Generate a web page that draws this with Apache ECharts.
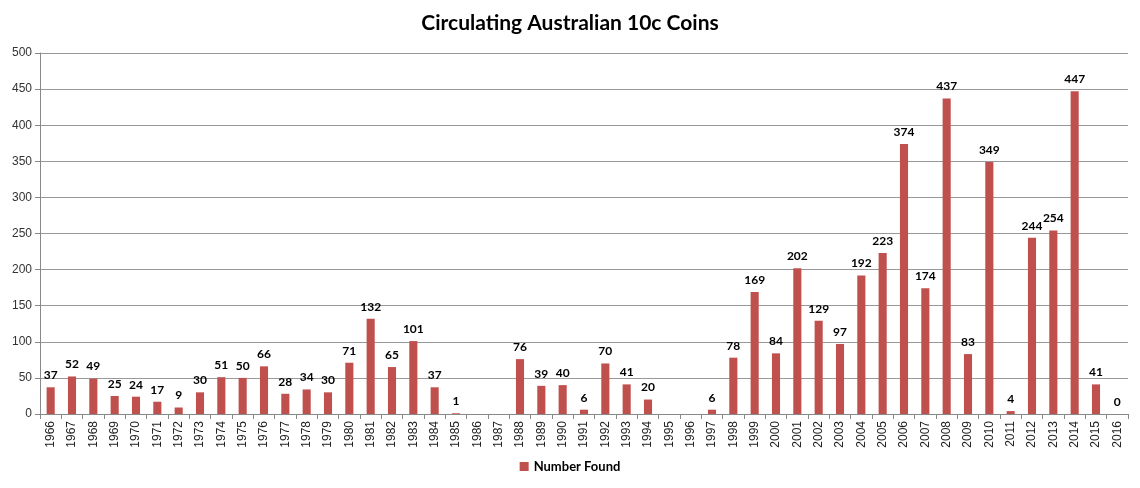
<!DOCTYPE html>
<html><head><meta charset="utf-8">
<script src="https://cdn.jsdelivr.net/npm/echarts@6/dist/echarts.min.js"></script>
<style>html,body{margin:0;padding:0;background:#fff}#c{width:1140px;height:488px}</style>
</head><body><div id="c"></div>
<script>
var years = ["1966","1967","1968","1969","1970","1971","1972","1973","1974","1975","1976","1977","1978","1979","1980","1981","1982","1983","1984","1985","1986","1987","1988","1989","1990","1991","1992","1993","1994","1995","1996","1997","1998","1999","2000","2001","2002","2003","2004","2005","2006","2007","2008","2009","2010","2011","2012","2013","2014","2015","2016"];
var numberFound = [37,52,49,25,24,17,9,30,51,50,66,28,34,30,71,132,65,101,37,1,null,null,76,39,40,6,70,41,20,null,null,6,78,169,84,202,129,97,192,223,374,174,437,83,349,4,244,254,447,41,0];
var yTicks = {min:0, max:500, interval:50};
var chart = echarts.init(document.getElementById('c'));
chart.setOption({
  animation:false,
  title:{text:'Circulating Australian 10c Coins', left:'center', top:8,
    textStyle:{fontFamily:'Lato', fontWeight:'bold', fontSize:21, color:'#000'}},
  legend:{bottom:10, left:'center', itemWidth:9, itemHeight:9, itemGap:4,
    icon:'rect', textStyle:{fontFamily:'Lato', fontWeight:'bold', fontSize:13, color:'#000'}},
  grid:{left:40, right:12, top:53, bottom:74},
  xAxis:{type:'category', data:years,
    axisLine:{lineStyle:{color:'#888'}},
    axisTick:{show:true, length:5, lineStyle:{color:'#888'}},
    axisLabel:{rotate:90, interval:0, fontFamily:'Liberation Sans', fontSize:12, color:'#222', margin:7}},
  yAxis:{type:'value', min:yTicks.min, max:yTicks.max, interval:yTicks.interval,
    axisLine:{show:true, lineStyle:{color:'#888'}},
    axisTick:{show:true, length:5, lineStyle:{color:'#888'}},
    splitLine:{lineStyle:{color:'#999'}},
    axisLabel:{fontFamily:'Liberation Sans', fontSize:12, color:'#333', margin:8}},
  series:[{name:'Number Found', type:'bar', data:numberFound, barWidth:'38%',
    itemStyle:{color:'#C0504D'},
    label:{show:true, position:'top', distance:6, fontFamily:'Lato', fontWeight:'bold', fontSize:12, color:'#000'}}]
});
</script></body></html>
